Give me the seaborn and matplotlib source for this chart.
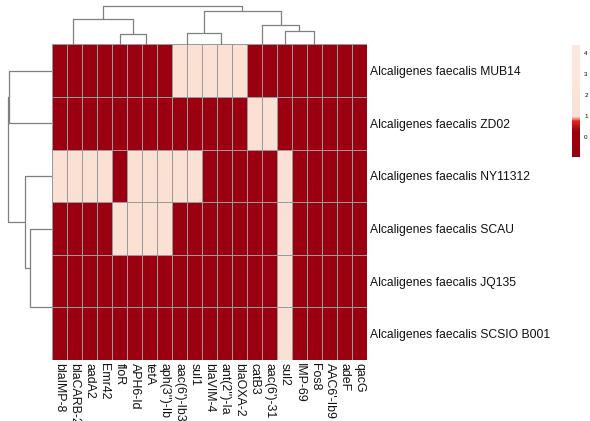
import matplotlib
matplotlib.use("Agg")
import numpy as np
import pandas as pd
import seaborn as sns
import matplotlib.pyplot as plt
from matplotlib.colors import LinearSegmentedColormap

plt.rcParams['font.family'] = ['Liberation Sans', 'DejaVu Sans']

# genes (columns, in clustered order) and strains (rows)
genes = ["blaIMP-8", "blaCARB-2", "aadA2", "Emr42", "floR", "APH6-Id", "tetA",
         "aph(3'')-Ib", "aac(6')-Ib3", "sul1", "blaVIM-4", "ant(2'')-Ia", "blaOXA-2",
         "catB3", "aac(6')-31", "sul2", "IMP-69", "Fos8", "AAC6'-Ib9", "adeF", "qacG"]
strains = ["Alcaligenes faecalis MUB14", "Alcaligenes faecalis ZD02",
           "Alcaligenes faecalis NY11312", "Alcaligenes faecalis SCAU",
           "Alcaligenes faecalis JQ135", "Alcaligenes faecalis SCSIO B001"]

mub14   = [0, 0, 0, 0, 0, 0, 0, 0, 1, 1, 1, 1, 1, 0, 0, 0, 0, 0, 0, 0, 0]
zd02    = [0, 0, 0, 0, 0, 0, 0, 0, 0, 0, 0, 0, 0, 1, 1, 0, 0, 0, 0, 0, 0]
ny11312 = [1, 1, 1, 1, 0, 1, 1, 1, 1, 1, 0, 0, 0, 0, 0, 1, 0, 0, 0, 0, 0]
scau    = [0, 0, 0, 0, 1, 1, 1, 1, 0, 0, 0, 0, 0, 0, 0, 1, 0, 0, 0, 0, 0]
jq135   = [0, 0, 0, 0, 0, 0, 0, 0, 0, 0, 0, 0, 0, 0, 0, 1, 0, 0, 0, 0, 0]
scsio   = [0, 0, 0, 0, 0, 0, 0, 0, 0, 0, 0, 0, 0, 0, 0, 1, 0, 0, 0, 0, 0]

# dendrograms as (left, right, height); leaves are indices into genes / strains
col_tree = (
    ((0, (1, (2, 3, 0), 0), 0), (4, (5, (6, 7, 0), 0), 1.03), 2.6),
    (((8, 9, 0), (10, (11, 12, 0), 0), 1.13),
     ((13, 14, 0), (15, (16, (17, (18, (19, 20, 0), 0), 0), 0), 1.33), 1.93), 3.36),
    3.86)
row_tree = ((0, 1, 4.34), (2, (3, (4, 5, 0), 2.2), 2.7), 4.37)

df = pd.DataFrame([mub14, zd02, ny11312, scau, jq135, scsio], index=strains, columns=genes)

vmin, vmax = -0.92, 4.36
stops = [(-0.92, "#930010"), (0.3, "#9d0010"), (0.75, "#e0261c"),
         (0.97, "#fbe1d4"), (4.36, "#fde8de")]
cmap = LinearSegmentedColormap.from_list(
    "pres", [((v - vmin) / (vmax - vmin), c) for v, c in stops])

W, H = 590, 421
fig = plt.figure(figsize=(W / 100, H / 100), dpi=100)


def box(x0, y0, x1, y1):
    return [x0 / W, 1 - y1 / H, (x1 - x0) / W, (y1 - y0) / H]


ax = fig.add_axes(box(52, 44.5, 367, 360))
ax_top = fig.add_axes(box(52, 0, 367, 44.5))
ax_left = fig.add_axes(box(0, 44.5, 52, 360))
cax = fig.add_axes(box(572, 45, 580, 156.7))

sns.heatmap(df, ax=ax, cmap=cmap, vmin=vmin, vmax=vmax, linewidths=0.5,
            linecolor="#9a9a9a", cbar_ax=cax, cbar_kws={"ticks": [0, 1, 2, 3, 4]})
ax.set_xlabel("")
ax.set_ylabel("")
ax.yaxis.tick_right()
ax.set_yticklabels(strains, rotation=0, fontsize=8.7, color="#111111")
ax.set_xticklabels(genes, rotation=270, fontsize=8.9, color="#111111")
ax.tick_params(length=0, pad=2)

cax.tick_params(length=0, labelsize=4.5, pad=3)
ax.collections[0].colorbar.outline.set_visible(False)


def draw_tree(a, node, orient):
    if isinstance(node, int):
        return node + 0.5, 0.0
    left, right, h = node
    pl, hl = draw_tree(a, left, orient)
    pr, hr = draw_tree(a, right, orient)
    if h > 0:
        xs = [pl, pl, pr, pr]
        ys = [hl, h, h, hr]
        if orient == "top":
            a.plot(xs, ys, color="#7f7f7f", lw=0.9, solid_capstyle="butt")
        else:
            a.plot(ys, xs, color="#7f7f7f", lw=0.9, solid_capstyle="butt")
    return (pl + pr) / 2, h


draw_tree(ax_top, col_tree, "top")
ax_top.set_xlim(0, len(genes))
ax_top.set_ylim(0, 4.45)
ax_top.axis("off")

draw_tree(ax_left, row_tree, "left")
ax_left.set_xlim(5.2, 0)
ax_left.set_ylim(len(strains), 0)
ax_left.axis("off")

fig.savefig("out.png", dpi=100)
